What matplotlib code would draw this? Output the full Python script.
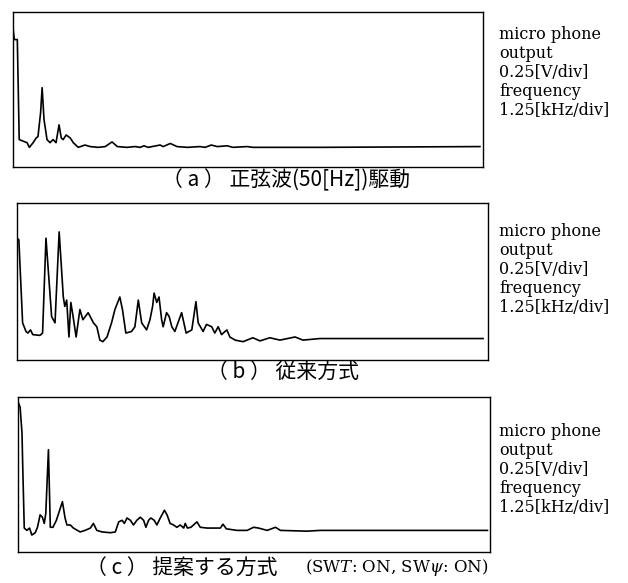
import matplotlib
matplotlib.use("Agg")
import matplotlib.pyplot as plt

plt.rcParams['font.family'] = ['Noto Sans CJK JP', 'DejaVu Sans']
plt.rcParams['mathtext.fontset'] = 'dejavuserif'

# 周波数 [kHz] と マイク出力 [V]
freq_a = [0.0, 0.03, 0.11, 0.16, 0.37, 0.43, 0.53, 0.61, 0.66, 0.73, 0.77, 0.82, 0.90, 0.98,
          1.06, 1.14, 1.22, 1.28, 1.33, 1.41, 1.52, 1.60, 1.73, 1.91, 2.05, 2.26, 2.45, 2.63,
          2.77, 3.03, 3.24, 3.38, 3.48, 3.59, 3.91, 3.99, 4.18, 4.36, 4.63, 4.97, 5.11, 5.27,
          5.43, 5.69, 5.85, 6.22, 6.38, 8.16, 12.42]
volt_a = [1.77, 1.64, 1.64, 0.35, 0.31, 0.25, 0.31, 0.37, 0.39, 0.70, 1.02, 0.61, 0.35, 0.31,
          0.35, 0.31, 0.54, 0.37, 0.35, 0.41, 0.37, 0.31, 0.25, 0.28, 0.26, 0.25, 0.26, 0.32,
          0.26, 0.25, 0.26, 0.25, 0.27, 0.25, 0.28, 0.26, 0.30, 0.26, 0.25, 0.26, 0.25, 0.28,
          0.26, 0.27, 0.25, 0.26, 0.25, 0.25, 0.26]

freq_b = [0.0, 0.05, 0.15, 0.24, 0.29, 0.36, 0.42, 0.61, 0.68, 0.77, 0.92, 1.01, 1.12, 1.23,
          1.27, 1.32, 1.38, 1.43, 1.49, 1.57, 1.67, 1.75, 1.89, 2.03, 2.12, 2.20, 2.28, 2.39,
          2.51, 2.60, 2.73, 2.80, 2.89, 3.04, 3.13, 3.22, 3.31, 3.44, 3.53, 3.60, 3.64, 3.71,
          3.77, 3.84, 3.88, 3.97, 4.04, 4.11, 4.19, 4.37, 4.49, 4.64, 4.75, 4.81, 4.94, 5.03,
          5.17, 5.25, 5.34, 5.43, 5.57, 5.65, 5.79, 6.00, 6.26, 6.45, 6.71, 6.98, 7.38, 7.59,
          8.04, 12.37]
volt_b = [1.55, 1.53, 0.47, 0.36, 0.34, 0.38, 0.32, 0.31, 0.34, 1.55, 0.55, 0.47, 1.63, 0.80,
          0.68, 0.76, 0.29, 0.73, 0.55, 0.29, 0.64, 0.51, 0.60, 0.47, 0.42, 0.25, 0.23, 0.29,
          0.47, 0.64, 0.80, 0.64, 0.34, 0.36, 0.42, 0.76, 0.47, 0.38, 0.51, 0.68, 0.85, 0.73,
          0.80, 0.51, 0.42, 0.60, 0.55, 0.42, 0.36, 0.60, 0.34, 0.38, 0.74, 0.47, 0.36, 0.45,
          0.42, 0.34, 0.42, 0.32, 0.38, 0.29, 0.25, 0.23, 0.28, 0.24, 0.28, 0.25, 0.29, 0.25,
          0.27, 0.27]

freq_c = [0.01, 0.05, 0.10, 0.12, 0.16, 0.23, 0.30, 0.36, 0.45, 0.51, 0.58, 0.64, 0.69, 0.73,
          0.80, 0.85, 0.92, 1.01, 1.07, 1.17, 1.24, 1.29, 1.38, 1.46, 1.64, 1.77, 1.91, 1.99,
          2.08, 2.22, 2.44, 2.57, 2.66, 2.75, 2.81, 2.88, 2.97, 3.05, 3.14, 3.23, 3.32, 3.38,
          3.45, 3.51, 3.60, 3.67, 3.76, 3.87, 3.94, 4.02, 4.11, 4.20, 4.29, 4.38, 4.42, 4.48,
          4.57, 4.64, 4.73, 4.82, 5.00, 5.35, 5.42, 5.51, 5.79, 6.06, 6.23, 6.36, 6.59, 6.81,
          6.94, 7.64, 8.00, 12.42]
volt_c = [1.92, 1.87, 1.54, 1.10, 0.31, 0.28, 0.31, 0.22, 0.25, 0.32, 0.48, 0.45, 0.37, 0.50,
          1.32, 0.32, 0.32, 0.41, 0.50, 0.65, 0.44, 0.35, 0.35, 0.31, 0.26, 0.28, 0.31, 0.37,
          0.28, 0.26, 0.25, 0.26, 0.39, 0.41, 0.37, 0.44, 0.41, 0.35, 0.41, 0.45, 0.41, 0.32,
          0.41, 0.44, 0.41, 0.35, 0.44, 0.54, 0.48, 0.37, 0.35, 0.32, 0.35, 0.31, 0.37, 0.31,
          0.32, 0.35, 0.39, 0.32, 0.31, 0.31, 0.36, 0.30, 0.28, 0.28, 0.32, 0.31, 0.28, 0.32,
          0.28, 0.27, 0.28, 0.28]

captions = ["（ a ） 正弦波(50[Hz])駆動", "（ b ） 従来方式", "（ c ） 提案する方式"]
side_lines = ["micro phone", "output", "0.25[V/div]", "frequency", "1.25[kHz/div]"]

fig = plt.figure(figsize=(6.28, 5.83), dpi=100)

# [left, bottom, width, height]
boxes = [[0.021, 0.714, 0.748, 0.266],
         [0.027, 0.383, 0.750, 0.269],
         [0.029, 0.053, 0.752, 0.266]]
cap_pos = [(0.455, 0.691), (0.45, 0.362), (0.29, 0.026)]
side_first = [0.94, 0.603, 0.26]

data = [(freq_a, volt_a), (freq_b, volt_b), (freq_c, volt_c)]

for i, (f, v) in enumerate(data):
    ax = fig.add_axes(boxes[i])
    ax.plot(f, v, color='black', lw=1.2)
    ax.set_xlim(0, 12.5)
    ax.set_ylim(0, 2.0)
    ax.set_xticks([])
    ax.set_yticks([])
    for s in ax.spines.values():
        s.set_linewidth(1.0)
    fig.text(cap_pos[i][0], cap_pos[i][1], captions[i], fontsize=15, ha='center', va='center')
    # 右側の説明
    for k, line in enumerate(side_lines):
        fig.text(0.795, side_first[i] - k * 0.0325, line, fontsize=11.5,
                 family=['DejaVu Serif'], ha='left', va='center')

fig.text(0.485, 0.026, "(SW$\\mathit{T}$: ON, SW$\\psi$: ON)", fontsize=12,
         family=['DejaVu Serif'], ha='left', va='center')

fig.savefig("out.png", dpi=100, facecolor='white')
